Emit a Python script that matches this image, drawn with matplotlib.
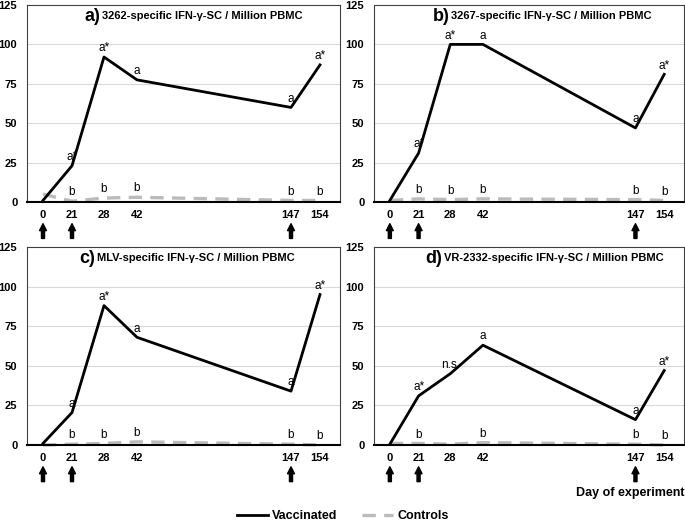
import matplotlib.pyplot as plt
import numpy as np

plt.rcParams['font.family'] = ['Liberation Sans', 'DejaVu Sans']

days = ['0', '21', '28', '42', '147', '154']
# where each day sits on the (non-linear) x axis
xpos = [16, 45, 77, 110, 264, 293]
arrow_days = [0, 1, 4]  # index of boost days

panel_letters = ['a)', 'b)', 'c)', 'd)']
panel_titles = ['3262-specific IFN-γ-SC / Million PBMC',
                '3267-specific IFN-γ-SC / Million PBMC',
                'MLV-specific IFN-γ-SC / Million PBMC',
                'VR-2332-specific IFN-γ-SC / Million PBMC']

vacc_a = [1, 23, 92, 77.5, 60, 87]
vacc_b = [1, 31, 100, 100, 47, 81]
vacc_c = [1, 20.5, 88, 68, 34, 95]
vacc_d = [0.5, 31, 45, 63, 16, 47]

ctrl_a = [5, 0.5, 2.5, 3, 1, 1]
ctrl_b = [1, 2, 1.5, 2, 1.5, 1]
ctrl_c = [0, 0.5, 1, 2, 0.5, 0]
ctrl_d = [1, 1, 0.5, 1.5, 0.5, 0]

lab_vacc_a = ['', 'a*', 'a*', 'a', 'a', 'a*']
lab_vacc_b = ['', 'a*', 'a*', 'a', 'a', 'a*']
lab_vacc_c = ['', 'a', 'a*', 'a', 'a', 'a*']
lab_vacc_d = ['', 'a*', 'n.s.', 'a', 'a', 'a*']
lab_ctrl = ['', 'b', 'b', 'b', 'b', 'b']
lab_ctrl_d = ['', 'b', '', 'b', 'b', 'b']

vacc = [vacc_a, vacc_b, vacc_c, vacc_d]
ctrl = [ctrl_a, ctrl_b, ctrl_c, ctrl_d]
lab_vacc = [lab_vacc_a, lab_vacc_b, lab_vacc_c, lab_vacc_d]
lab_c = [lab_ctrl, lab_ctrl, lab_ctrl, lab_ctrl_d]

fig = plt.figure(figsize=(6.85, 5.22), dpi=100)
boxes = [[27 / 685, 1 - 202 / 522, 313 / 685, 197 / 522],
         [374 / 685, 1 - 202 / 522, 310 / 685, 197 / 522],
         [27 / 685, 1 - 445 / 522, 313 / 685, 198 / 522],
         [374 / 685, 1 - 445 / 522, 310 / 685, 198 / 522]]
title_x = [0.24, 0.248, 0.224, 0.226]

for k in range(4):
    ax = fig.add_axes(boxes[k])
    ax.set_xlim(0, 313)
    ax.set_ylim(0, 125)
    ax.set_yticks([0, 25, 50, 75, 100, 125])
    ax.set_xticks(xpos)
    ax.set_xticklabels(days)
    ax.tick_params(length=0, labelsize=8, pad=6)
    ax.tick_params(axis='y', pad=7)
    for t in ax.get_xticklabels() + ax.get_yticklabels():
        t.set_fontweight('bold')
    for y in [25, 50, 75, 100]:
        ax.axhline(y, color='#d9d9d9', lw=0.8, zorder=0)
    for s in ['left', 'top', 'right']:
        ax.spines[s].set_color('#404040')
        ax.spines[s].set_linewidth(0.8)
    ax.spines['bottom'].set_color('black')
    ax.spines['bottom'].set_linewidth(1.5)

    l1, = ax.plot(xpos, ctrl[k], color='#bbbbbb', lw=2.4, dashes=(4, 2.5),
                  label='Controls', clip_on=False)
    l2, = ax.plot(xpos, vacc[k], color='black', lw=2, label='Vaccinated',
                  clip_on=False)
    for i in range(len(xpos)):
        if lab_vacc[k][i]:
            ax.annotate(lab_vacc[k][i], (xpos[i], vacc[k][i]), xytext=(0, 2),
                        textcoords='offset points', ha='center', va='bottom',
                        fontsize=8.5)
        if lab_c[k][i]:
            ax.annotate(lab_c[k][i], (xpos[i], ctrl[k][i]), xytext=(0, 2),
                        textcoords='offset points', ha='center', va='bottom',
                        fontsize=8.5)
    for i in arrow_days:
        ax.annotate('', xy=(xpos[i], -0.11), xytext=(xpos[i], -0.185),
                    xycoords=('data', 'axes fraction'),
                    arrowprops=dict(arrowstyle='simple,head_width=0.5,head_length=0.5,tail_width=0.22',
                                    color='black', shrinkA=0, shrinkB=0),
                    annotation_clip=False)
    ax.text(title_x[k] - 0.005, 0.944, panel_letters[k], transform=ax.transAxes,
            ha='right', va='center', fontsize=13, fontweight='bold')
    ax.text(title_x[k], 0.944, panel_titles[k], transform=ax.transAxes,
            ha='left', va='center', fontsize=8, fontweight='bold')

fig.text(684 / 685, 1 - 493 / 522, 'Day of experiment', ha='right', va='center',
         fontsize=9, fontweight='bold')
fig.legend([l2, l1], ['Vaccinated', 'Controls'], loc='center',
           bbox_to_anchor=(0.5, 1 - 516 / 522), ncol=2, frameon=False,
           prop={'weight': 'bold', 'size': 9}, handlelength=2.5, columnspacing=2,
           handletextpad=0.3)

fig.savefig('out.png', dpi=100)
